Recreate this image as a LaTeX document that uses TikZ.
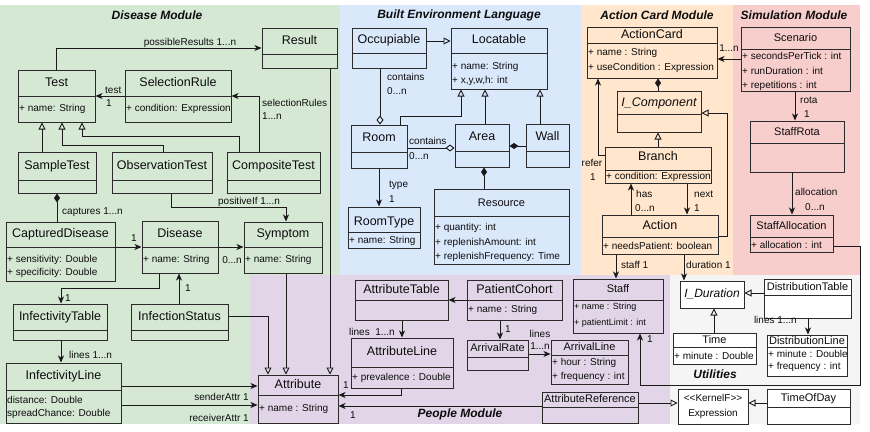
\documentclass[tikz,border=0pt]{standalone}
\usepackage{fontspec}
\setmainfont{Liberation Sans}
\usetikzlibrary{arrows.meta,fit}
\definecolor{cgreen}{HTML}{D5E8D4}
\definecolor{cblue}{HTML}{DAE8FC}
\definecolor{corange}{HTML}{FFE6CC}
\definecolor{cpink}{HTML}{F8CECC}
\definecolor{cpurple}{HTML}{E1D5E7}
\definecolor{cgray}{HTML}{F5F5F5}
\definecolor{linec}{HTML}{1A1A1A}
\definecolor{boxc}{HTML}{2B2B2B}
\definecolor{txtc}{HTML}{0D0D0D}
\def\boxfill{none}
\newcommand{\umlc}[9]{%
  \node[box, fit={(#2) (#3)}] (#1) {};
  \draw[divl] (#1.west |- 0,#4) -- (#1.east |- 0,#4);
  \node[#6] (#1-h) at (#1.center |- 0,#5) {#7};
  \if\relax\detokenize{#9}\relax\else
    \node[attr] (#1-a) at (#1.west |- 0,#8) {#9};
  \fi
}
\begin{document}
\begin{tikzpicture}[x=1pt,y=-1pt,
  box/.style={draw=boxc, line width=1pt, inner sep=0pt, rectangle, fill=\boxfill},
  divl/.style={draw=boxc, line width=1pt},
  hd/.style={font=\fontsize{12.5}{14}\selectfont, inner sep=0pt, text=txtc, text height=0.72em, text depth=0.06em},
  hds/.style={font=\fontsize{11}{13}\selectfont, inner sep=0pt, text=txtc, text height=0.72em, text depth=0.06em},
  hdi/.style={font=\fontsize{12.5}{14}\selectfont\itshape, inner sep=0pt, text=txtc, text height=0.72em, text depth=0.06em},
  attr/.style={font=\fontsize{10}{14}\selectfont, align=left, inner xsep=1.5pt, inner ysep=0pt, anchor=west, text=txtc},
  lbl/.style={font=\fontsize{10}{12}\selectfont, inner sep=0pt, text=txtc, text height=0.72em, text depth=0.06em},
  ttl/.style={font=\fontsize{12}{14}\selectfont\bfseries\itshape, inner sep=0pt, text=txtc},
  assoc/.style={draw=linec, line width=0.9pt, -{Stealth[length=7pt,width=6pt,inset=2pt]}},
  gen/.style={draw=linec, line width=0.9pt, -{Triangle[open,length=7pt,width=7pt]}},
  comp/.style={draw=linec, line width=0.9pt, {Diamond[length=9pt,width=6pt]}-},
  agg/.style={draw=linec, line width=0.9pt, {Diamond[open,length=9pt,width=7pt]}-}
]
\useasboundingbox (0,0) rectangle (870,431);
% backgrounds
\fill[cgreen] (0,5) rectangle (340,275);
\fill[cgreen] (0,275) rectangle (250,424);
\fill[cblue] (340,5) rectangle (581,275);
\fill[corange] (581,5) rectangle (733,275);
\fill[cpink] (733,5) rectangle (860,275);
\fill[cpurple] (250,275) rectangle (670,424);
\fill[cgray] (670,275) rectangle (860,424);
% titles
\node[ttl] (tDis) at (157,15) {Disease Module};
\node[ttl] (tBuilt) at (459,15) {Built Environment Language};
\node[ttl] (tAct) at (657,15) {Action Card Module};
\node[ttl] (tSim) at (794,15) {Simulation Module};
\node[ttl] (tPeo) at (460,414) {People Module};
\node[ttl] (tUti) at (715,374) {Utilities};
% Disease module classes
\umlc{Result}{262,28}{337,68}{54}{41}{hd}{Result}{61}{}
\umlc{Test}{18,70}{95,122}{96}{83}{hd}{Test}{109}{+ name: String}
\umlc{SelectionRule}{125,70}{231,122}{96}{83}{hd}{SelectionRule}{109}{+ condition: Expression}
\umlc{SampleTest}{18,152}{96,193}{180}{166}{hd}{SampleTest}{186}{}
\umlc{ObservationTest}{112,152}{212,193}{180}{166}{hd}{ObservationTest}{186}{}
\umlc{CompositeTest}{227,152}{320,193}{180}{166}{hd}{CompositeTest}{186}{}
\umlc{CapturedDisease}{6,222}{115,281}{247}{234.5}{hd}{CapturedDisease}{266.5}{+ sensitivity: Double\\[-1pt]+ specificity: Double}
\umlc{Disease}{142,221}{218,273}{247}{234}{hd}{Disease}{260}{+ name: String}
\umlc{Symptom}{244,222}{322,273}{247}{234.5}{hd}{Symptom}{260}{+ name: String}
\umlc{InfectivityTable}{13,304}{107,340}{330}{317}{hd}{InfectivityTable}{335}{}
\umlc{InfectionStatus}{131,304}{228,340}{330}{317}{hd}{InfectionStatus}{335}{}
\umlc{InfectivityLine}{6,363}{121,423}{390}{376.5}{hd}{InfectivityLine}{407.5}{distance: Double\\[-1pt]spreadChance: Double}
\umlc{Attribute}{258,375}{338,423}{395}{385}{hd}{Attribute}{409}{+ name : String}
% Built environment
\umlc{Occupiable}{352,28}{426,68}{53}{40.5}{hd}{Occupiable}{60}{}
\umlc{Locatable}{451,28}{547,89}{53}{40.5}{hd}{Locatable}{74}{+ name: String\\+ x,y,w,h: int}
\umlc{Room}{351,125}{407,168}{152}{138.5}{hd}{Room}{160}{}
\umlc{Area}{455,124}{509,167}{151}{137.5}{hd}{Area}{159}{}
\umlc{Wall}{526,124}{569,167}{151}{137.5}{hd}{Wall}{159}{}
\umlc{RoomType}{348,207}{420,248}{232}{222}{hd}{RoomType}{241}{+ name: String}
\umlc{Resource}{434,189}{569,264}{216}{203}{hds}{Resource}{242.5}{+ quantity: int\\[0.5pt]+ replenishAmount: int\\[0.5pt]+ replenishFrequency: Time}
% Action card
\umlc{ActionCard}{587,27}{717,78}{43}{35}{hd}{ActionCard}{60.5}{+ name : String\\[1pt]+ useCondition : Expression}
\umlc{IComponent}{617,91}{701,132}{114}{103}{hdi}{I\_Component}{123}{}
\umlc{Branch}{605,147}{711,183}{170}{157.5}{hd}{Branch}{177}{+ condition: Expression}
\umlc{Action}{602,215}{718,254}{237}{226.5}{hd}{Action}{246}{+ needsPatient: boolean}
% Simulation
\umlc{Scenario}{741,27}{850,91}{49}{38}{hds}{Scenario}{71.5}{+ secondsPerTick : int\\[0.5pt]+ runDuration : int\\[0.5pt]+ repetitions : int}
\umlc{StaffRota}{750,121}{844,172}{143}{132}{hds}{StaffRota}{157}{}
\umlc{StaffAllocation}{750,215}{833,252}{237}{226}{hds}{StaffAllocation}{245}{+ allocation : int}
% People
\umlc{AttributeTable}{355,280}{448,320}{300}{290.5}{hd}{AttributeTable}{310}{}
\umlc{PatientCohort}{467,280}{562,320}{300}{290.5}{hd}{PatientCohort}{310}{+ name : String}
\umlc{AttributeLine}{351,338}{453,388}{367}{352.5}{hd}{AttributeLine}{377.5}{+ prevalence : Double}
\umlc{ArrivalRate}{467,340}{528,370}{357}{348.5}{hds}{ArrivalRate}{363}{}
\umlc{ArrivalLine}{551,340}{628,384}{355}{347.5}{hds}{ArrivalLine}{370}{+ hour : String\\+ frequency : int}
\umlc{AttributeReference}{542,392}{638,423}{407}{399.5}{hds}{AttributeReference}{415}{}
\node[box, fit={(573,279) (663,333)}] (Staff) {};
\draw[divl] (Staff.west |- 0,300) -- (Staff.east |- 0,300);
\node[hds] (Staff-h) at (Staff.center |- 0,289.5) {Staff};
\node[attr, font=\fontsize{9}{16}\selectfont] (Staff-a) at (Staff.west |- 0,315) {+ name : String\\+ patientLimit : int};
% Utilities
\def\boxfill{white}
\node[box, fit={(680,281) (744,308)}] (IDuration) {};
\node[hdi, font=\fontsize{12}{14}\selectfont\itshape] (IDuration-h) at (IDuration.center) {I\_Duration};
\umlc{DistributionTable}{764,279}{851,318}{295}{287}{hds}{DistributionTable}{306}{}
\umlc{DistributionLine}{767,335}{847,376}{347}{341}{hds}{DistributionLine}{361}{+ minute : Double\\[-2pt]+ frequency : int}
\umlc{Time}{673,333}{756,364}{347}{340}{hds}{Time}{356}{+ minute : Double}
\umlc{TimeOfDay}{767,389}{850,424}{407}{398}{hds}{TimeOfDay}{415}{}
\node[box, fit={(678,389) (748,424)}] (Expression) {};
\node[lbl, align=center, text height=, text depth=, font=\fontsize{10}{14.5}\selectfont] (Expression-h) at (Expression.center) {<{}<KernelF>{}>\\Expression};
% ---------- connectors: Disease
\draw[assoc] (56,0 |- Test.north) |- (Result.west |- 0,48);
\node[lbl] (lPR) at (190,42) {possibleResults 1...n};
\draw[assoc] (SelectionRule.west |- 0,96) -- (Test.east |- 0,96);
\node[lbl, anchor=west] (lT1) at (105,90) {test};
\node[lbl, anchor=west] (lT2) at (106,103) {1};
\draw[assoc] (259,0 |- CompositeTest.north) |- (SelectionRule.east |- 0,96);
\node[lbl, anchor=west] (lSR1) at (262,103) {selectionRules};
\node[lbl, anchor=west] (lSR2) at (262,116) {1...n};
\draw[gen] (42,0 |- SampleTest.north) -- (42,0 |- Test.south);
\draw[gen] (163,0 |- ObservationTest.north) -- (163,145) -| (62,0 |- Test.south);
\draw[gen] (239,0 |- CompositeTest.north) -- (239,136) -| (82,0 |- Test.south);
\draw[comp] (57,0 |- SampleTest.south) -- (57,0 |- CapturedDisease.north);
\node[lbl, anchor=west] (lCap) at (62,211) {captures 1...n};
\draw[assoc] (171,0 |- ObservationTest.south) -- (171,207) -| (286,0 |- Symptom.north);
\node[lbl] (lPos) at (249,201) {positiveIf 1...n};
\draw[assoc] (CapturedDisease.east |- 0,247) -- (Disease.west |- 0,247);
\node[lbl] (lCD1) at (134,238) {1};
\draw[assoc] (Disease.east |- 0,247) -- (Symptom.west |- 0,247);
\node[lbl] (lDS) at (232,260) {0...n};
\draw[assoc] (159,0 |- Disease.south) -- (159,288) -| (61,0 |- InfectivityTable.north);
\node[lbl] (lIT1) at (68,298) {1};
\draw[assoc] (179,0 |- InfectionStatus.north) -- (179,0 |- Disease.south);
\node[lbl] (lIS1) at (188,288) {1};
\draw[gen] (InfectionStatus.east |- 0,316) -| (268,0 |- Attribute.north);
\draw[assoc] (61,0 |- InfectivityTable.south) -- (61,0 |- InfectivityLine.north);
\node[lbl, anchor=west] (lIL) at (69,355) {lines 1...n};
\draw[assoc] (InfectivityLine.east |- 0,386) -- (Attribute.west |- 0,386);
\draw[assoc] (InfectivityLine.east |- 0,405) -- (Attribute.west |- 0,405);
\node[lbl, anchor=east] (lSend) at (249,397) {senderAttr 1};
\node[lbl, anchor=east] (lRecv) at (249,418) {receiverAttr 1};
\draw[gen] (286,0 |- Symptom.south) -- (286,0 |- Attribute.north);
\draw[gen] (330,0 |- Result.south) -- (330,0 |- Attribute.north);
% ---------- Built environment
\draw[gen] (Occupiable.east |- 0,41) -- (Locatable.west |- 0,41);
\draw[agg] (380,0 |- Room.north) -- (380,0 |- Occupiable.south);
\node[lbl, anchor=west] (lOc1) at (387,77) {contains};
\node[lbl, anchor=west] (lOc2) at (387,91) {0...n};
\draw[gen] (400,0 |- Room.north) -- (400,116) -| (461,0 |- Locatable.south);
\draw[gen] (485,0 |- Area.north) -- (485,0 |- Locatable.south);
\draw[gen] (540,0 |- Wall.north) -- (540,0 |- Locatable.south);
\draw[agg] (Area.west |- 0,148) -- (Room.east |- 0,148);
\node[lbl, anchor=west] (lRA1) at (409,141) {contains};
\node[lbl, anchor=west] (lRA2) at (409,156) {0...n};
\draw[comp] (Area.east |- 0,146) -- (Wall.west |- 0,146);
\draw[assoc] (379,0 |- Room.south) -- (379,0 |- RoomType.north);
\node[lbl, anchor=west] (lTy1) at (389,184) {type};
\node[lbl, anchor=west] (lTy2) at (389,199) {1};
\draw[comp] (484,0 |- Area.south) -- (484,0 |- Resource.north);
% ---------- Action card / simulation
\draw[assoc] (Scenario.west |- 0,59) -- (ActionCard.east |- 0,59);
\node[lbl] (lSc) at (729,48) {1...n};
\draw[comp] (658,0 |- ActionCard.south) -- (658,0 |- IComponent.north);
\draw[gen] (658,0 |- Branch.north) -- (658,0 |- IComponent.south);
\draw[assoc] (Branch.west |- 0,155) -| (598,0 |- ActionCard.south);
\node[lbl] (lRef1) at (592,163) {refer};
\node[lbl] (lRef2) at (593,177) {1};
\draw[assoc] (631,0 |- Action.north) -- (631,0 |- Branch.south);
\node[lbl, anchor=west] (lHas1) at (636,194) {has};
\node[lbl, anchor=west] (lHas2) at (635,208) {0...n};
\draw[assoc] (687,0 |- Branch.south) -- (687,0 |- Action.north);
\node[lbl, anchor=west] (lNx1) at (694,194) {next};
\node[lbl, anchor=west] (lNx2) at (694,208) {1};
\draw[gen] (Action.east |- 0,236) -- (727,236) |- (IComponent.east |- 0,113);
\draw[assoc] (795,0 |- Scenario.south) -- (795,0 |- StaffRota.north);
\node[lbl, anchor=west] (lRo1) at (800,100) {rota};
\node[lbl, anchor=west] (lRo2) at (804,114) {1};
\draw[assoc] (792,0 |- StaffRota.south) -- (792,0 |- StaffAllocation.north);
\node[lbl, anchor=west] (lAl1) at (795,192) {allocation};
\node[lbl, anchor=west] (lAl2) at (805,207) {0...n};
\draw[assoc] (StaffAllocation.east |- 0,246) -| (860,385) -| (640,0 |- Staff.south);
\node[lbl] (lSt1) at (650,339) {1};
\draw[assoc] (616,0 |- Action.south) -- (616,0 |- Staff.north);
\node[lbl, anchor=west] (lStaff) at (621,265) {staff 1};
\draw[assoc] (684,0 |- Action.south) -- (684,0 |- IDuration.north);
\node[lbl, anchor=west] (lDur) at (686,265) {duration 1};
% ---------- Utilities
\draw[gen] (DistributionTable.west |- 0,293) -- (IDuration.east |- 0,293);
\draw[assoc] (808,0 |- DistributionTable.south) -- (808,0 |- DistributionLine.north);
\node[lbl, anchor=east] (lDL) at (797,320) {lines 1...n};
\draw[gen] (714,0 |- Time.north) -- (714,0 |- IDuration.south);
\draw[gen] (AttributeReference.east |- 0,403) -- (Expression.west |- 0,403);
\draw[gen] (TimeOfDay.west |- 0,403) -- (Expression.east |- 0,403);
% ---------- People
\draw[assoc] (PatientCohort.west |- 0,300) -- (AttributeTable.east |- 0,300);
\draw[assoc] (402,0 |- AttributeTable.south) -- (402,0 |- AttributeLine.north);
\node[lbl, anchor=east] (lAL) at (395,332) {lines\ \ 1...n};
\draw[assoc] (401,0 |- AttributeLine.south) |- (Attribute.east |- 0,395);
\node[lbl] (lAL1) at (346,385) {1};
\draw[assoc] (AttributeReference.west |- 0,406) -- (Attribute.east |- 0,406);
\node[lbl] (lAR1) at (353,415) {1};
\draw[assoc] (500,0 |- PatientCohort.south) -- (500,0 |- ArrivalRate.north);
\node[lbl] (lPC1) at (508,329) {1};
\draw[assoc] (ArrivalRate.east |- 0,354) -- (ArrivalLine.west |- 0,354);
\node[lbl] (lAr1) at (540,334) {lines};
\node[lbl] (lAr2) at (540,346) {1...n};
\end{tikzpicture}
\end{document}
